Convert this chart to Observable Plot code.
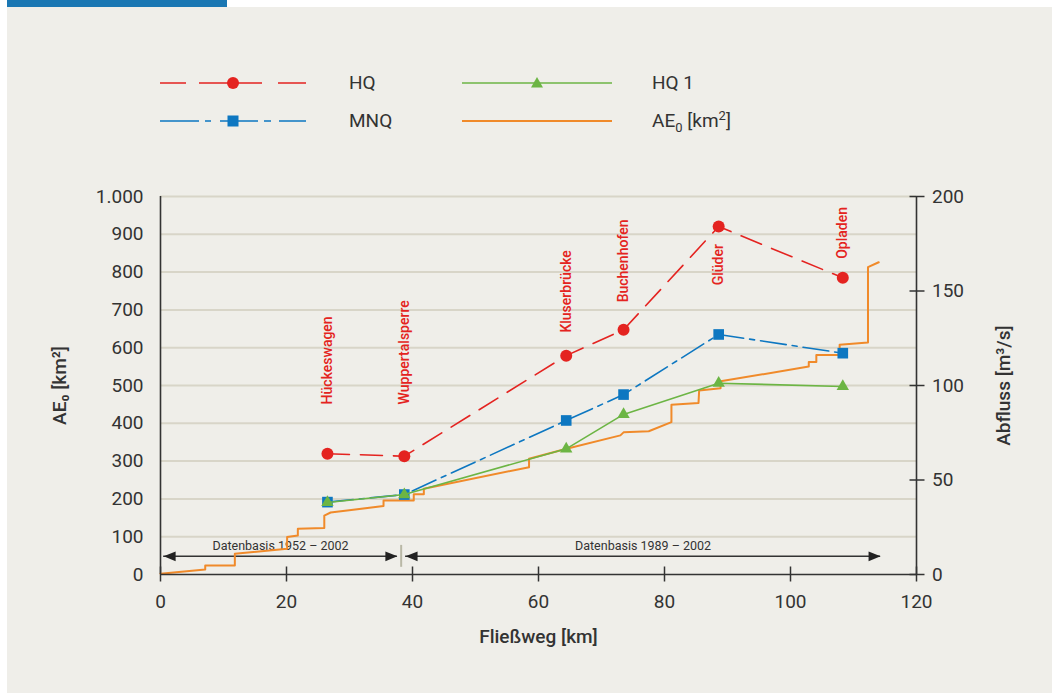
<!DOCTYPE html>
<html><head><meta charset="utf-8">
<script src="https://cdn.jsdelivr.net/npm/d3@7"></script>
<script src="https://cdn.jsdelivr.net/npm/@observablehq/plot@0.6"></script>
<style>
html,body{margin:0;padding:0;background:#fff;}
#page{position:relative;width:1052px;height:693px;overflow:hidden;font-family:Roboto,"Open Sans",sans-serif;color:#333;}
#bar{position:absolute;left:7px;top:0;width:220px;height:7px;background:#1a77b3;}
#panel{position:absolute;left:7px;top:7px;width:1045px;height:686px;background:#efeee9;}
#chart{position:absolute;left:0;top:150px;width:1052px;}
#chart svg{background:transparent !important;overflow:visible;}
.legtxt{position:absolute;font-size:19px;line-height:20px;white-space:nowrap;color:#333;}
.legtxt sub,.legtxt sup{font-size:13px;line-height:0;}
.legsw{position:absolute;}
</style></head>
<body><div id="page"><div id="bar"></div><div id="panel"></div><div id="legend"></div><div id="chart"></div></div>
<script>
// ---------- data ----------
const stations = ["Hückeswagen", "Wuppertalsperre", "Kluserbrücke", "Buchenhofen", "Glüder", "Opladen"];
const stationKm = [26.5, 38.7, 64.4, 73.5, 88.6, 108.3];        // Fließweg [km]
const hq  = [63.9, 62.6, 115.8, 129.5, 184.1, 157.0];            // m³/s
const mnq = [38.3, 42.3, 81.5, 95.2, 127.0, 117.1];              // m³/s
const hq1 = [38.1, 42.3, 66.5, 84.7, 101.2, 99.5];               // m³/s
const labelAt = [90, 90, 128, 144, 153, 167];                    // m³/s level where station name starts

const aeKm =   [0, 7.1, 7.1, 11.8, 11.8, 20.1, 20.1, 21.8, 21.8, 26.0, 26.0, 27.0, 35.4, 35.4, 40.2, 40.2, 41.8, 41.8, 58.5, 58.5, 64.3, 73.0, 73.5, 77.5, 81.1, 81.1, 85.4, 85.5, 88.9, 88.9, 102.9, 102.9, 104.1, 104.1, 107.8, 107.8, 112.3, 112.3, 114.0];
const aeArea = [2, 13, 24, 24, 55, 68, 99, 103, 121, 123, 156, 164, 181, 196, 196, 212, 212, 227, 284, 306, 332, 368, 376, 379, 403, 449, 454, 487, 493, 511, 550, 562, 562, 581, 581, 608, 614, 813, 826];

const periods = ["Datenbasis 1952 – 2002", "Datenbasis 1989 – 2002"];
const periodFrom = [0.5, 38.9];
const periodTo = [37.6, 114.3];
const splitKm = 38.2;
const arrowLevel = 48;           // km² level of the Datenbasis arrows
const splitRange = [19, 77];

const leftTicks = d3.range(0, 1001, 100);
const rightTicks = [0, 50, 100, 150, 200];
const xTicks = d3.range(0, 121, 20);

// ---------- styles ----------
const red = "#e42320", blue = "#0d77c1", green = "#6cb544", orange = "#f08a2a", ink = "#333333";
const k = 1000 / 200; // left scale (km²) per right scale unit (m³/s)

const de = d3.formatLocale({decimal: ",", thousands: ".", grouping: [3], currency: ["", "€"]});
const fmt = de.format(",d");

const rows = stations.map((s, i) => ({station: s, km: stationKm[i], hq: hq[i], mnq: mnq[i], hq1: hq1[i], lab: labelAt[i]}));
const ae = aeKm.map((x, i) => ({km: x, area: aeArea[i]}));
const per = periods.map((p, i) => ({label: p, from: periodFrom[i], to: periodTo[i]}));

const arrowLeft = {draw(ctx) { ctx.moveTo(0, 0); ctx.lineTo(12, -4.8); ctx.lineTo(12, 4.8); ctx.closePath(); }};
const arrowRight = {draw(ctx) { ctx.moveTo(0, 0); ctx.lineTo(-12, -4.8); ctx.lineTo(-12, 4.8); ctx.closePath(); }};

const chart = Plot.plot({
  width: 1052, height: 520,
  marginLeft: 160, marginRight: 136, marginTop: 46, marginBottom: 96,
  style: {background: "transparent", fontFamily: "Roboto, sans-serif", fontSize: "19px", color: ink},
  x: {domain: [0, 120], label: null},
  y: {domain: [0, 1000], label: null},
  marks: [
    Plot.gridY({ticks: leftTicks.slice(1), stroke: "#d8d5c8", strokeOpacity: 1, strokeWidth: 2}),
    Plot.axisY({anchor: "left", ticks: leftTicks, tickFormat: fmt, tickSize: 0, tickPadding: 17, label: null, fill: ink}),
    Plot.axisY({anchor: "right", ticks: rightTicks.map(v => v * k), tickFormat: d => fmt(d / k), tickSize: 15, dx: -7.5, tickPadding: 8, stroke: ink, strokeWidth: 1.5, label: null, fill: ink}),
    Plot.axisX({ticks: xTicks, tickSize: 15, dy: -7.5, tickPadding: 12, stroke: ink, strokeWidth: 1.5, label: null, fill: ink}),
    // Datenbasis annotation
    Plot.ruleY(per, {x1: "from", x2: "to", y: () => arrowLevel, stroke: ink, strokeWidth: 1.5}),
    Plot.dot(per, {x: "from", y: () => arrowLevel, symbol: arrowLeft, fill: "#222"}),
    Plot.dot(per, {x: "to", y: () => arrowLevel, symbol: arrowRight, fill: "#222"}),
    Plot.ruleX([splitKm], {y1: splitRange[0], y2: splitRange[1], stroke: "#b9b8a6", strokeWidth: 2}),
    Plot.text(per, {x: d => (d.from + d.to) / 2, y: () => arrowLevel, text: "label", dy: -10, fontSize: 12.5, fill: ink}),
    // AE0
    Plot.line(ae, {x: "km", y: "area", stroke: orange, strokeWidth: 2}),
    // MNQ
    Plot.line(rows, {x: "km", y: d => d.mnq * k, stroke: blue, strokeWidth: 1.6, strokeDasharray: "26,6,5,6"}),
    Plot.dot(rows, {x: "km", y: d => d.mnq * k, symbol: "square", r: 6, fill: blue}),
    // HQ1
    Plot.line(rows, {x: "km", y: d => d.hq1 * k, stroke: green, strokeWidth: 1.6}),
    Plot.dot(rows, {x: "km", y: d => d.hq1 * k, symbol: "triangle", r: 4.6, fill: green}),
    // HQ
    Plot.line(rows, {x: "km", y: d => d.hq * k, stroke: red, strokeWidth: 1.6, strokeDasharray: "22,11"}),
    Plot.dot(rows, {x: "km", y: d => d.hq * k, symbol: "circle", r: 6, fill: red}),
    Plot.text(rows, {x: "km", y: d => d.lab * k, text: "station", rotate: -90, textAnchor: "start", fill: red, fontSize: 14, fontWeight: 500}),
    // axis lines
    Plot.ruleX([0, 120], {stroke: ink, strokeWidth: 1.6}),
    Plot.ruleY([0], {stroke: ink, strokeWidth: 1.6}),
    // axis titles
    Plot.text(["AE₀ [km²]"], {text: d => d, frameAnchor: "left", textAnchor: "middle", rotate: -90, dx: -101, fontSize: 19, fontWeight: 500, fill: ink}),
    Plot.text(["Abfluss [m³/s]"], {text: d => d, frameAnchor: "right", textAnchor: "middle", rotate: -90, dx: 87, fontSize: 19, fontWeight: 500, fill: ink}),
    Plot.text(["Fließweg [km]"], {text: d => d, frameAnchor: "bottom", textAnchor: "middle", dy: 68, fontSize: 19, fontWeight: 500, fill: ink})
  ]
});
document.getElementById("chart").appendChild(chart);

// ---------- legend ----------
const legendItems = [
  {html: "HQ", color: red, dash: "26 13 63 16 30", sym: "circle", col: 0, row: 0, w: 1.6},
  {html: "HQ 1", color: green, dash: null, sym: "triangle", col: 1, row: 0, w: 1.6},
  {html: "MNQ", color: blue, dash: "39 6 6 9 38 6 7 8 40", sym: "square", col: 0, row: 1, w: 1.6},
  {html: "AE<sub>0</sub> [km<sup>2</sup>]", color: orange, dash: null, sym: null, col: 1, row: 1, w: 2}
];
const swLeft = [160, 462], swWidth = [146, 150], txtLeft = [349, 652], rowY = [83, 121];
const leg = document.getElementById("legend");
for (const it of legendItems) {
  const w = swWidth[it.col], cx = w / 2;
  let marker = "";
  if (it.sym === "circle") marker = `<circle cx="${cx}" cy="10" r="6" fill="${it.color}"/>`;
  if (it.sym === "square") marker = `<rect x="${cx - 5.5}" y="4.5" width="11" height="11" fill="${it.color}"/>`;
  if (it.sym === "triangle") marker = `<path d="M${cx},4 L${cx + 6},14.5 L${cx - 6},14.5 Z" fill="${it.color}"/>`;
  const svg = `<svg class="legsw" style="left:${swLeft[it.col]}px;top:${rowY[it.row] - 10}px" width="${w}" height="20">
    <line x1="0" y1="10" x2="${w}" y2="10" stroke="${it.color}" stroke-width="${it.w}" ${it.dash ? `stroke-dasharray="${it.dash}"` : ""}/>${marker}</svg>`;
  leg.insertAdjacentHTML("beforeend", svg);
  leg.insertAdjacentHTML("beforeend", `<div class="legtxt" style="left:${txtLeft[it.col]}px;top:${rowY[it.row] - 10}px">${it.html}</div>`);
}
</script>
</body></html>
